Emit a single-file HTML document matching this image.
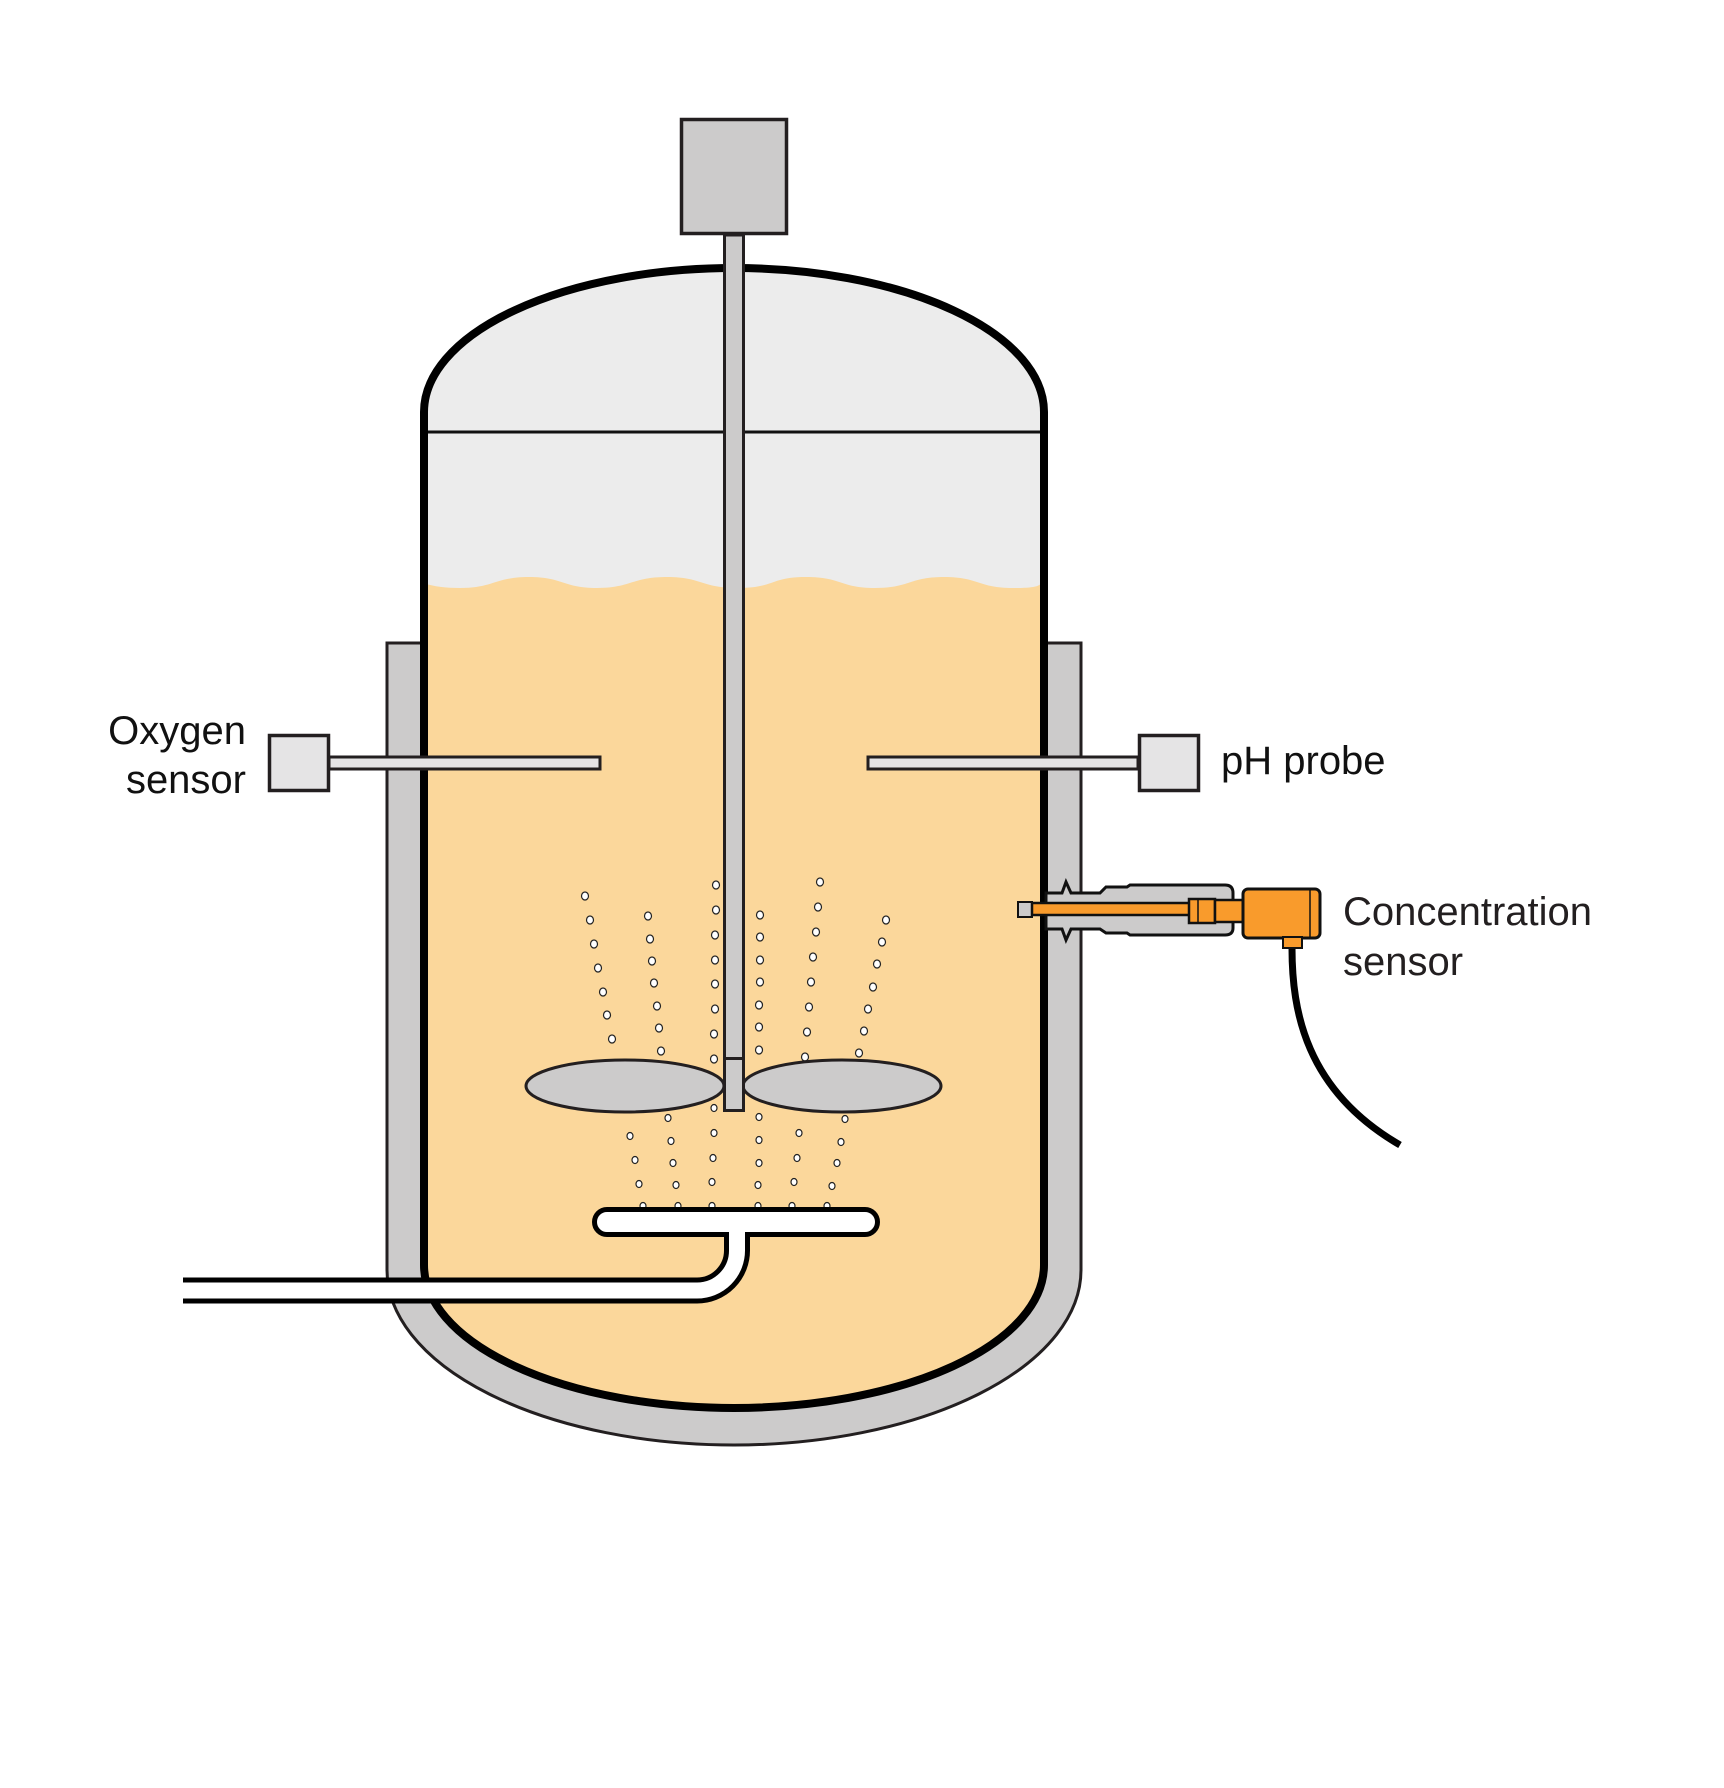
<!DOCTYPE html>
<html><head><meta charset="utf-8"><style>html,body{margin:0;padding:0;background:#fff}svg{display:block}</style></head>
<body>
<svg width="1724" height="1788" viewBox="0 0 1724 1788" xmlns="http://www.w3.org/2000/svg">
<defs>
<clipPath id="vc"><path d="M424,1265 V412 A310,144 0 0 1 1044,412 V1265 A310,143 0 0 1 424,1265 Z"/></clipPath>
</defs>
<path d="M387,643 H424 V1000 H1044 V643 H1081 V1270 A347,175 0 0 1 387,1270 Z" fill="#cccbcb" stroke="#231f20" stroke-width="3"/>
<path d="M424,1265 V412 A310,144 0 0 1 1044,412 V1265 A310,143 0 0 1 424,1265 Z" fill="#ececec"/>
<path clip-path="url(#vc)" fill="#fbd79b" d="M420,582 Q436,588 460,588 C494,588 495,577 529,577 S563,588 597,588 S632,577 667,577 S701,588 738,588 S770,577 806,577 S840,588 875,588 S909,577 944,577 S978,588 1013,588 S1035,583 1048,581 V1500 H420 Z"/>
<line x1="424" y1="432" x2="1044" y2="432" stroke="#111" stroke-width="3"/>
<path d="M424,1265 V412 A310,144 0 0 1 1044,412 V1265 A310,143 0 0 1 424,1265 Z" fill="none" stroke="#000" stroke-width="8"/>

<g fill="#fff" stroke="#222" stroke-width="1.2">
<ellipse cx="585" cy="896" rx="3.5" ry="4"/><ellipse cx="590" cy="920" rx="3.5" ry="4"/><ellipse cx="594" cy="944" rx="3.5" ry="4"/><ellipse cx="598" cy="968" rx="3.5" ry="4"/><ellipse cx="603" cy="992" rx="3.5" ry="4"/><ellipse cx="607" cy="1015" rx="3.5" ry="4"/><ellipse cx="612" cy="1039" rx="3.5" ry="4"/>
<ellipse cx="648" cy="916" rx="3.5" ry="4"/><ellipse cx="650" cy="939" rx="3.5" ry="4"/><ellipse cx="652" cy="961" rx="3.5" ry="4"/><ellipse cx="654" cy="983" rx="3.5" ry="4"/><ellipse cx="657" cy="1006" rx="3.5" ry="4"/><ellipse cx="659" cy="1028" rx="3.5" ry="4"/><ellipse cx="661" cy="1051" rx="3.5" ry="4"/>
<ellipse cx="716" cy="885" rx="3.5" ry="4"/><ellipse cx="716" cy="910" rx="3.5" ry="4"/><ellipse cx="715" cy="935" rx="3.5" ry="4"/><ellipse cx="715" cy="960" rx="3.5" ry="4"/><ellipse cx="715" cy="984" rx="3.5" ry="4"/><ellipse cx="715" cy="1009" rx="3.5" ry="4"/><ellipse cx="714" cy="1034" rx="3.5" ry="4"/><ellipse cx="714" cy="1059" rx="3.5" ry="4"/>
<ellipse cx="760" cy="915" rx="3.5" ry="4"/><ellipse cx="760" cy="937" rx="3.5" ry="4"/><ellipse cx="760" cy="960" rx="3.5" ry="4"/><ellipse cx="760" cy="982" rx="3.5" ry="4"/><ellipse cx="759" cy="1005" rx="3.5" ry="4"/><ellipse cx="759" cy="1027" rx="3.5" ry="4"/><ellipse cx="759" cy="1050" rx="3.5" ry="4"/>
<ellipse cx="820" cy="882" rx="3.5" ry="4"/><ellipse cx="818" cy="907" rx="3.5" ry="4"/><ellipse cx="816" cy="932" rx="3.5" ry="4"/><ellipse cx="813" cy="957" rx="3.5" ry="4"/><ellipse cx="811" cy="982" rx="3.5" ry="4"/><ellipse cx="809" cy="1007" rx="3.5" ry="4"/><ellipse cx="807" cy="1032" rx="3.5" ry="4"/><ellipse cx="805" cy="1057" rx="3.5" ry="4"/>
<ellipse cx="886" cy="920" rx="3.5" ry="4"/><ellipse cx="882" cy="942" rx="3.5" ry="4"/><ellipse cx="877" cy="964" rx="3.5" ry="4"/><ellipse cx="873" cy="987" rx="3.5" ry="4"/><ellipse cx="868" cy="1009" rx="3.5" ry="4"/><ellipse cx="864" cy="1031" rx="3.5" ry="4"/><ellipse cx="859" cy="1053" rx="3.5" ry="4"/>
<ellipse cx="630" cy="1136" rx="3" ry="3.5"/><ellipse cx="635" cy="1160" rx="3" ry="3.5"/><ellipse cx="639" cy="1184" rx="3" ry="3.5"/><ellipse cx="643" cy="1206" rx="3" ry="3.5"/>
<ellipse cx="668" cy="1118" rx="3" ry="3.5"/><ellipse cx="671" cy="1141" rx="3" ry="3.5"/><ellipse cx="673" cy="1163" rx="3" ry="3.5"/><ellipse cx="676" cy="1185" rx="3" ry="3.5"/><ellipse cx="678" cy="1206" rx="3" ry="3.5"/>
<ellipse cx="714" cy="1108" rx="3" ry="3.5"/><ellipse cx="714" cy="1133" rx="3" ry="3.5"/><ellipse cx="713" cy="1158" rx="3" ry="3.5"/><ellipse cx="712" cy="1182" rx="3" ry="3.5"/><ellipse cx="712" cy="1206" rx="3" ry="3.5"/>
<ellipse cx="759" cy="1117" rx="3" ry="3.5"/><ellipse cx="759" cy="1140" rx="3" ry="3.5"/><ellipse cx="759" cy="1163" rx="3" ry="3.5"/><ellipse cx="758" cy="1185" rx="3" ry="3.5"/><ellipse cx="758" cy="1206" rx="3" ry="3.5"/>
<ellipse cx="799" cy="1133" rx="3" ry="3.5"/><ellipse cx="797" cy="1158" rx="3" ry="3.5"/><ellipse cx="794" cy="1182" rx="3" ry="3.5"/><ellipse cx="792" cy="1206" rx="3" ry="3.5"/>
<ellipse cx="845" cy="1119" rx="3" ry="3.5"/><ellipse cx="841" cy="1142" rx="3" ry="3.5"/><ellipse cx="837" cy="1163" rx="3" ry="3.5"/><ellipse cx="832" cy="1186" rx="3" ry="3.5"/><ellipse cx="827" cy="1206" rx="3" ry="3.5"/>
</g>

<rect x="681.5" y="119.5" width="105" height="114" fill="#cccbcb" stroke="#231f20" stroke-width="3.5"/>
<rect x="724.5" y="235" width="19" height="825" fill="#cccbcb" stroke="#231f20" stroke-width="3"/>
<ellipse cx="625" cy="1086" rx="99" ry="26" fill="#cccbcb" stroke="#231f20" stroke-width="3"/>
<ellipse cx="842" cy="1086" rx="99" ry="26" fill="#cccbcb" stroke="#231f20" stroke-width="3"/>
<rect x="724.5" y="1058.5" width="19" height="52" fill="#cccbcb" stroke="#231f20" stroke-width="3"/>

<path d="M183,1290.5 H697 A40,40 0 0 0 737,1250 V1225" fill="none" stroke="#000" stroke-width="26"/>
<rect x="594.5" y="1209.5" width="283" height="25" rx="12.5" fill="#fff" stroke="#000" stroke-width="5"/>
<path d="M183,1290.5 H697 A40,40 0 0 0 737,1250 V1225" fill="none" stroke="#fff" stroke-width="16"/>

<rect x="329" y="757" width="271" height="12" fill="#e5e4e5" stroke="#231f20" stroke-width="3"/>
<rect x="269.5" y="735.5" width="59" height="55" fill="#e5e4e5" stroke="#231f20" stroke-width="3.5"/>
<rect x="868" y="757" width="270" height="12" fill="#e5e4e5" stroke="#231f20" stroke-width="3"/>
<rect x="1139.5" y="735.5" width="59" height="55" fill="#e5e4e5" stroke="#231f20" stroke-width="3.5"/>

<path d="M1046,893 H1062 L1066,882 L1071,893 H1100 L1106,887 H1127 L1130,885 H1225 Q1233,885 1233,893 V928 Q1233,935 1225,935 H1130 L1127,933 H1106 L1100,929 H1071 L1066,940 L1062,929 H1046 Z" fill="#cccbcb" stroke="#111" stroke-width="3"/>
<rect x="1018" y="902" width="14" height="15" fill="#cccbcb" stroke="#111" stroke-width="2"/>
<rect x="1032" y="903" width="158" height="12" fill="#f99b2c" stroke="#111" stroke-width="2.5"/>
<rect x="1189" y="899" width="26" height="24" fill="#f99b2c" stroke="#111" stroke-width="2.5"/>
<line x1="1198" y1="899" x2="1198" y2="923" stroke="#111" stroke-width="1.5"/>
<rect x="1215" y="900" width="29" height="22" fill="#f99b2c" stroke="#111" stroke-width="2.5"/>
<rect x="1243" y="889" width="77" height="49" rx="5" fill="#f99b2c" stroke="#111" stroke-width="3"/>
<line x1="1310" y1="890" x2="1310" y2="937" stroke="#111" stroke-width="1.5"/>
<path d="M1292,948 C1292,1010 1305,1090 1400,1145" fill="none" stroke="#000" stroke-width="7"/>
<rect x="1283" y="937" width="19" height="11" fill="#f99b2c" stroke="#111" stroke-width="2"/>

<g font-family="'Liberation Sans', Arial, sans-serif" font-size="40" fill="#111">
<text x="246" y="744" text-anchor="end">Oxygen</text>
<text x="246" y="793" text-anchor="end">sensor</text>
<text x="1221" y="774">pH probe</text>
<text x="1343" y="925" fill="#231f20">Concentration</text>
<text x="1343" y="975" fill="#231f20">sensor</text>
</g>
</svg>
</body></html>
